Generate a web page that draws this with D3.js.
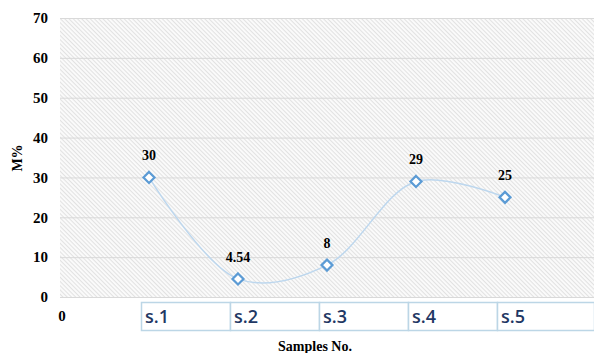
<!DOCTYPE html>
<html>
<head>
<meta charset="utf-8">
<script src="https://cdn.jsdelivr.net/npm/d3@7"></script>
<style>
  html, body { margin: 0; padding: 0; background: #fff; }
  svg { display: block; }
</style>
</head>
<body>
<svg id="chart" width="594" height="353"></svg>
<script>
// Sample positions and moisture values
const samplePos = [1, 2, 3, 4, 5];
const sampleNames = ["s.1", "s.2", "s.3", "s.4", "s.5"];
const moisture = [30, 4.54, 8, 29, 25];
const valueLabels = ["30", "4.54", "8", "29", "25"];
const yTicks = [0, 10, 20, 30, 40, 50, 60, 70];
const xTicks = [0];

const svg = d3.select("#chart");
const plotLeft = 60, plotRight = 594, plotTop = 18, plotBottom = 297;
const serif = "'Liberation Serif', 'Times New Roman', serif";

const x = d3.scaleLinear().domain([0, 6]).range([plotLeft, plotRight]);
const y = d3.scaleLinear().domain([0, 70]).range([plotBottom, plotTop]);

// fine diagonal hatch fill for the plot area
const defs = svg.append("defs");
const pat = defs.append("pattern")
  .attr("id", "hatch")
  .attr("patternUnits", "userSpaceOnUse")
  .attr("width", 3).attr("height", 3)
  .attr("patternTransform", "rotate(45)");
pat.append("rect").attr("width", 3).attr("height", 3).attr("fill", "#fbfbfb");
pat.append("line").attr("x1", 0).attr("y1", 0.5).attr("x2", 3).attr("y2", 0.5)
  .attr("stroke", "#e2e2e2").attr("stroke-width", 1.1);

svg.append("rect")
  .attr("x", plotLeft).attr("y", plotTop)
  .attr("width", plotRight - plotLeft).attr("height", plotBottom - plotTop)
  .attr("fill", "url(#hatch)");

// horizontal gridlines
svg.append("g").selectAll("line").data(yTicks).join("line")
  .attr("x1", plotLeft).attr("x2", plotRight)
  .attr("y1", d => y(d) + 0.5).attr("y2", d => y(d) + 0.5)
  .attr("stroke", "#d9d9d9").attr("stroke-width", 1);

// y axis labels
const yAxis = d3.axisLeft(y).tickValues(yTicks).tickSize(0).tickPadding(12);
svg.append("g").attr("transform", `translate(${plotLeft},0)`).call(yAxis)
  .call(g => g.select(".domain").remove())
  .selectAll("text")
  .attr("font-family", serif)
  .attr("font-weight", "bold").attr("font-size", 15).attr("fill", "#000");

// x value axis label at origin
svg.append("g").selectAll("text").data(xTicks).join("text")
  .attr("x", d => x(d) + 2).attr("y", 321)
  .attr("text-anchor", "middle")
  .attr("font-family", serif)
  .attr("font-weight", "bold").attr("font-size", 15).attr("fill", "#000")
  .text(d => d);

// sample name cells below the plot
const cellTop = 302, cellH = 28;
const cells = svg.append("g");
sampleNames.forEach((name, i) => {
  const x0 = x(samplePos[i]) - 8;
  const x1 = i < sampleNames.length - 1 ? x(samplePos[i + 1]) - 8 : plotRight;
  cells.append("rect")
    .attr("x", x0 + 0.5).attr("y", cellTop + 0.5)
    .attr("width", x1 - x0).attr("height", cellH)
    .attr("fill", "#fff").attr("stroke", "#bcd6e6").attr("stroke-width", 1.5);
  cells.append("text")
    .attr("x", x0 + 4).attr("y", cellTop + 21)
    .attr("font-family", "'Open Sans', 'Liberation Sans', sans-serif")
    .attr("font-weight", 600)
    .attr("font-size", 18).attr("fill", "#1f3864")
    .text(name);
});

// smoothed line through the samples
const pts = samplePos.map((p, i) => [x(p), y(moisture[i])]);
svg.append("path")
  .attr("d", d3.line().curve(d3.curveCatmullRom.alpha(0.5))(pts))
  .attr("fill", "none").attr("stroke", "#bdd7ee").attr("stroke-width", 1.5);

// diamond markers
svg.append("g").selectAll("path").data(pts).join("path")
  .attr("transform", d => `translate(${d[0]},${d[1]})`)
  .attr("d", "M0,-5.5L5.5,0L0,5.5L-5.5,0Z")
  .attr("fill", "#fff").attr("stroke", "#5b9bd5").attr("stroke-width", 2.2);

// value labels
svg.append("g").selectAll("text").data(pts).join("text")
  .attr("x", d => d[0]).attr("y", d => d[1] - 17)
  .attr("text-anchor", "middle")
  .attr("font-family", serif)
  .attr("font-weight", "bold").attr("font-size", 14).attr("fill", "#000")
  .text((d, i) => valueLabels[i]);

// axis titles
svg.append("text")
  .attr("x", 315).attr("y", 351)
  .attr("text-anchor", "middle")
  .attr("font-family", serif)
  .attr("font-weight", "bold").attr("font-size", 14).attr("fill", "#000")
  .text("Samples No.");

svg.append("text")
  .attr("transform", "translate(22,158) rotate(-90)")
  .attr("text-anchor", "middle")
  .attr("font-family", serif)
  .attr("font-weight", "bold").attr("font-size", 14).attr("fill", "#000")
  .text("M%");
</script>
</body>
</html>
